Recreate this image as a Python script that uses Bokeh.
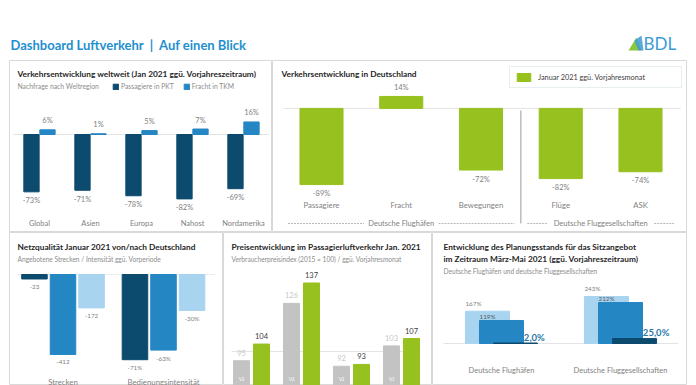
from bokeh.plotting import figure
from bokeh.layouts import column, row
from bokeh.models import Range1d, Spacer, ColumnDataSource, Legend, LegendItem
from bokeh.core.properties import value
from bokeh.embed import file_html
from bokeh.resources import INLINE

# ---------------- data ----------------
world_regions = ["Global", "Asien", "Europa", "Nahost", "Nordamerika"]
world_passengers_pkt = [-73, -71, -78, -82, -69]
world_cargo_tkm = [6, 1, 5, 7, 16]

de_categories = ["Passagiere", "Fracht", "Bewegungen", "Flüge", "ASK"]
de_change = [-89, 14, -72, -82, -74]
de_group_names = ["Deutsche Flughäfen", "Deutsche Fluggesellschaften"]
de_group_sizes = [3, 2]

net_groups = ["Strecken", "Bedienungsintensität"]
net_strecken = [-23, -412, -172]
net_intensitaet = [-71, -63, -30]

price_vj = [95, 126, 92, 103]
price_jan21 = [104, 137, 93, 107]
price_vj_tag = "VJ"

seat_groups = ["Deutsche Flughäfen", "Deutsche Fluggesellschaften"]
seat_light = [167, 243]
seat_mid = [119, 212]
seat_dark = [2.0, 25.0]

# ---------------- style ----------------
FONT = "Lato"
TITLE_C = "#262626"
SUB_C = "#8c8c8c"
LBL_C = "#7f7f7f"
BORDER = "#d9d9d9"
ZERO_C = "#e3e3e3"
NAVY = "#0c4a6e"
BLUE = "#2586c4"
LIGHT = "#a8d4f0"
GREEN = "#96c11f"
GREY_BAR = "#c3c3c3"
HEAD_C = "#1f8fd0"
TS = 8.3


def panel(w, h, x0, x1, y0, y1, outline=True):
    p = figure(width=w, height=h, x_range=Range1d(x0, x1), y_range=Range1d(y0, y1),
               output_backend="svg", toolbar_location=None, min_border=0,
               x_axis_location=None, y_axis_location=None)
    p.grid.visible = False
    p.outline_line_color = BORDER if outline else None
    p.background_fill_color = "white"
    p.border_fill_color = "white"
    p.extra_x_ranges = {"px": Range1d(0, w)}
    p.extra_y_ranges = {"px": Range1d(h, 0)}
    return p


def txt(p, xs, ys, ss, size, color, bold=False, align="left", baseline="middle",
        xr="px", yr="px", **kw):
    src = ColumnDataSource(dict(x=list(xs), y=list(ys), t=list(ss)))
    p.text(x="x", y="y", text="t", source=src, x_range_name=xr, y_range_name=yr,
           text_font=value(FONT), text_font_size=f"{size}px", text_color=color,
           text_font_style="bold" if bold else "normal", text_align=align,
           text_baseline=baseline, **kw)


def pct(v):
    return f"{v}%"


# ---------------- header ----------------
hdr = figure(width=696, height=60, x_range=Range1d(0, 696), y_range=Range1d(60, 0),
             output_backend="svg", toolbar_location=None, min_border=0,
             x_axis_location=None, y_axis_location=None)
hdr.grid.visible = False
hdr.outline_line_color = None
txt(hdr, [10], [44], ["Dashboard Luftverkehr\u00a0\u00a0|\u00a0\u00a0Auf einen Blick"], 13,
    HEAD_C, bold=True, xr="default", yr="default")
hdr.patch([628, 636, 641], [50, 37, 50], color="#8cc63f", line_color=None)
hdr.patch([634, 641, 643, 638], [40, 35, 50, 50], color="#3d9bd6", line_color=None, alpha=0.85)
txt(hdr, [643], [43], ["BDL"], 17, "#3d9bd6", xr="default", yr="default")

# ---------------- panel A: world ----------------
W_A, H_A = 263, 172
pA = panel(W_A, H_A, -0.588, 4.569, -124.8, 94.3)
xi = list(range(len(world_regions)))
srcA = ColumnDataSource(dict(
    xp=[i - 0.157 for i in xi], xc=[i + 0.157 for i in xi],
    pax=world_passengers_pkt, cargo=world_cargo_tkm,
    pl=[pct(v) for v in world_passengers_pkt], cl=[pct(v) for v in world_cargo_tkm]))
pA.segment(x0=[4], x1=[259], y0=[0], y1=[0], x_range_name="px", line_color=ZERO_C)
rA1 = pA.vbar(x="xp", top="pax", bottom=0, width=0.3, source=srcA, color=NAVY)
rA2 = pA.vbar(x="xc", top="cargo", bottom=0, width=0.3, source=srcA, color=BLUE)
for xcol, ycol, lcol, off in [("xp", "pax", "pl", 9), ("xc", "cargo", "cl", -9)]:
    pA.text(x=xcol, y=ycol, text=lcol, source=srcA, y_offset=off, text_align="center",
            text_baseline="middle", text_font=value(FONT), text_font_size="7.5px",
            text_color=LBL_C)
txt(pA, xi, [163] * 5, world_regions, 7.5, LBL_C, align="center", xr="default")
txt(pA, [8], [13], ["Verkehrsentwicklung weltweit (Jan 2021 ggü. Vorjahreszeitraum)"], TS,
    TITLE_C, bold=True)
txt(pA, [8], [25], ["Nachfrage nach Weltregion"], 6.8, SUB_C)
legA = Legend(items=[LegendItem(label="Passagiere in PKT", renderers=[rA1]),
                     LegendItem(label="Fracht in TKM", renderers=[rA2])],
              orientation="horizontal", location=(103, 142), padding=0, margin=0,
              spacing=9, glyph_width=7, glyph_height=7, label_standoff=2, label_height=8,
              label_text_font=FONT, label_text_font_size="6.8px", label_text_color=SUB_C,
              border_line_color=None, background_fill_alpha=0)
pA.add_layout(legA)

# ---------------- panel B: Germany ----------------
W_B, H_B = 415, 172
UB = 79.75
pB = panel(W_B, H_B, -49 / UB, (W_B - 49) / UB, -145, 56)
xb = list(range(len(de_categories)))
srcB = ColumnDataSource(dict(x=xb, v=de_change, l=[pct(v) for v in de_change],
                             off=[-9 if v > 0 else 9 for v in de_change]))
pB.segment(x0=[11], x1=[408], y0=[0], y1=[0], x_range_name="px", line_color=ZERO_C)
rB = pB.vbar(x="x", top="v", bottom=0, width=0.54, source=srcB, color=GREEN)
pB.text(x="x", y="v", text="l", source=srcB, y_offset="off", text_align="center",
        text_baseline="middle", text_font=value(FONT), text_font_size="7.5px", text_color=LBL_C)
txt(pB, xb, [144] * 5, de_categories, 7.8, LBL_C, align="center", xr="default")
start = 0
for gi, (gname, gsize) in enumerate(zip(de_group_names, de_group_sizes)):
    c = start + (gsize - 1) / 2
    lo, hi = start - 0.42, start + gsize - 1 + 0.42
    gap = (len(gname) * 3.6 / 2 + 5) / UB
    txt(pB, [c], [163], [gname], 7.5, LBL_C, align="center", xr="default")
    pB.segment(x0=[lo, c + gap], x1=[c - gap, hi], y0=[163, 163], y1=[163, 163],
               y_range_name="px", line_color="#9a9a9a", line_width=0.7, line_dash="2 1")
    if gi > 0:
        pB.segment(x0=[start - 0.5], x1=[start - 0.5], y0=[50], y1=[163], y_range_name="px",
                   line_color="#9a9a9a", line_width=1)
    start += gsize
txt(pB, [9], [13], ["Verkehrsentwicklung in Deutschland"], TS, TITLE_C, bold=True)
legB = Legend(items=[LegendItem(label="Januar 2021 ggü. Vorjahresmonat", renderers=[rB])],
              location=(237, 144), padding=5, margin=0, glyph_width=17, glyph_height=10,
              label_standoff=6, label_height=10, label_width=138,
              label_text_font=FONT, label_text_font_size="7.3px", label_text_color="#404040",
              border_line_color="#cfdde6", border_line_width=1, background_fill_color="white")
pB.add_layout(legB)

# ---------------- panel C: network quality ----------------
W_C, H_C = 214, 153
UC = 100.5
pC = panel(W_C, H_C, -53.5 / UC, (W_C - 53.5) / UC, -572, 216.5)
pC.extra_y_ranges = {**pC.extra_y_ranges, "pct": Range1d(-92.5, 35)}
offs = [-0.284, 0, 0.284]
cols3 = [NAVY, BLUE, LIGHT]
pC.segment(x0=[8], x1=[205], y0=[0], y1=[0], x_range_name="px", line_color=ZERO_C,
           line_dash="2 1")
for gi, (vals, rng, fmt) in enumerate([(net_strecken, "default", str),
                                       (net_intensitaet, "pct", pct)]):
    s = ColumnDataSource(dict(x=[gi + o for o in offs], v=vals, c=cols3,
                              l=[fmt(v) for v in vals]))
    pC.vbar(x="x", top="v", bottom=0, width=0.254, source=s, color="c", y_range_name=rng)
    pC.text(x="x", y="v", text="l", source=s, y_offset=8, y_range_name=rng,
            text_align="center", text_baseline="middle", text_font=value(FONT),
            text_font_size="6.3px", text_color=LBL_C)
txt(pC, [0, 1], [149, 149], net_groups, 7.8, LBL_C, align="center", xr="default")
txt(pC, [8], [14], ["Netzqualität Januar 2021 von/nach Deutschland"], TS, TITLE_C, bold=True)
txt(pC, [8], [26], ["Angebotene Strecken / Intensität ggü. Vorperiode"], 6.6, SUB_C)

# ---------------- panel D: prices ----------------
W_D, H_D = 209, 153
pD = panel(W_D, H_D, -0.56, (W_D - 28) / 50, 81.6, 164.3)
xd = list(range(len(price_vj)))
srcD = ColumnDataSource(dict(xg=[i - 0.2 for i in xd], xn=[i + 0.2 for i in xd],
                             vj=price_vj, now=price_jan21,
                             lvj=[str(v) for v in price_vj], lnow=[str(v) for v in price_jan21],
                             tag=[price_vj_tag] * len(xd)))
pD.segment(x0=[8], x1=[197], y0=[100], y1=[100], x_range_name="px", line_color=ZERO_C)
pD.vbar(x="xg", top="vj", bottom=0, width=0.32, source=srcD, color=GREY_BAR)
pD.vbar(x="xn", top="now", bottom=0, width=0.32, source=srcD, color=GREEN)
pD.text(x="xg", y="vj", text="lvj", source=srcD, y_offset=-8, text_align="center",
        text_baseline="middle", text_font=value(FONT), text_font_size="7.5px",
        text_color="#c8c8c8")
pD.text(x="xn", y="now", text="lnow", source=srcD, y_offset=-8, text_align="center",
        text_baseline="middle", text_font=value(FONT), text_font_size="7.5px",
        text_color="#404040")
txt(pD, srcD.data["xg"], [146] * len(xd), srcD.data["tag"], 5.5, "white", align="center",
    xr="default")
txt(pD, [8], [14], ["Preisentwicklung im Passagierluftverkehr Jan. 2021"], TS, TITLE_C,
    bold=True)
txt(pD, [8], [26], ["Verbraucherpreisindex (2015 = 100) / ggü. Vorjahresmonat"], 6.6, SUB_C)

# ---------------- panel E: seat capacity planning ----------------
W_E, H_E = 255, 153
UE = 119
pE = panel(W_E, H_E, -69 / UE, (W_E - 69) / UE, -218, 575)
xe = list(range(len(seat_groups)))
BW = 0.37
pE.segment(x0=[11], x1=[246], y0=[0], y1=[0], x_range_name="px", line_color=ZERO_C)
for vals, off, colr, lc, fs, yo, bold, fmt in [
        (seat_light, -0.118, LIGHT, LBL_C, 6.3, -8, False, pct),
        (seat_mid, 0.0, BLUE, "#5a5a5a", 6.3, -4, False, pct),
        (seat_dark, 0.118, NAVY, "#2a78a8", 9.5, -6, True,
         lambda v: f"{v:.1f}".replace(".", ",") + "%")]:
    s = ColumnDataSource(dict(x=[i + off for i in xe], v=vals, l=[fmt(v) for v in vals]))
    pE.vbar(x="x", top="v", bottom=0, width=BW, source=s, color=colr)
    lx = [i + off - BW / 2 for i in xe] if not bold else [i + off + 0.07 for i in xe]
    txt(pE, lx, vals, s.data["l"], fs, lc, bold=bold, xr="default", yr="default", y_offset=yo)
txt(pE, xe, [138, 138], seat_groups, 7.5, LBL_C, align="center", xr="default")
txt(pE, [11, 11], [14, 26], ["Entwicklung des Planungsstands für das Sitzangebot",
                             "im Zeitraum März-Mai 2021 (ggü. Vorjahreszeitraum)"], TS,
    TITLE_C, bold=True)
txt(pE, [11], [38], ["Deutsche Flughäfen und deutsche Fluggesellschaften"], 6.6, SUB_C)

layout = column(hdr,
                row(Spacer(width=9, height=H_A), pA, pB),
                row(Spacer(width=9, height=H_C), pC, pD, pE))

open("out.html", "w").write(file_html(layout, INLINE))
